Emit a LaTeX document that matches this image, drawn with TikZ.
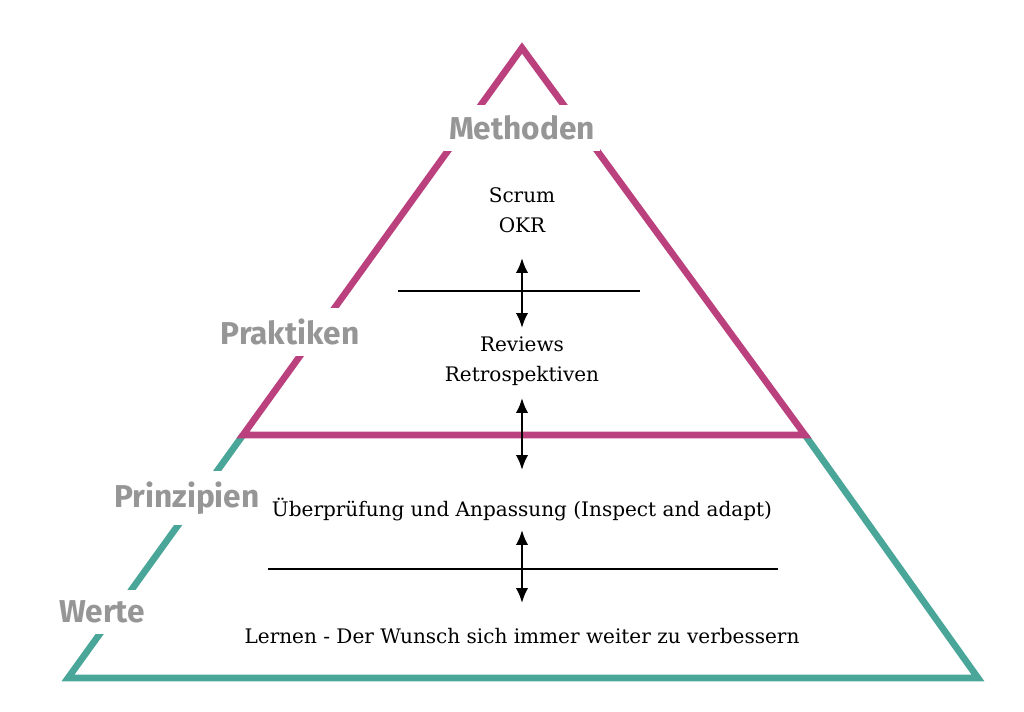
\documentclass[tikz,border=0pt]{standalone}
\usepackage{fontspec}
\setmainfont{DejaVu Serif}
\newfontfamily\stufenfont{Fira Sans}
\usetikzlibrary{arrows.meta,positioning}
\definecolor{pinkrand}{RGB}{187,64,126}
\definecolor{tuerkisrand}{RGB}{74,166,152}
\definecolor{stufengrau}{RGB}{150,150,150}

\begin{document}
\begin{tikzpicture}[x=0.02cm, y=-0.02cm,
  stufe/.style={stufengrau, fill=white, inner xsep=3pt, inner ysep=6pt,
    font=\stufenfont\bfseries\fontsize{18}{20}\selectfont},
  inhalt/.style={align=center, inner sep=1pt, font=\fontsize{11.4}{17}\selectfont},
  trenner/.style={line width=1.1pt, black},
  wechsel/.style={{Latex[length=3mm,width=2.5mm]}-{Latex[length=3mm,width=2.5mm]}, line width=1.4pt}]
  \useasboundingbox (0,0) rectangle (1024,712);
  % Sockel: Werte und Prinzipien
  \draw[line width=3.8pt, tuerkisrand] (243,435) -- (68,678) -- (978,678) -- (805,435);
  % Spitze: Methoden und Praktiken
  \draw[line width=3.8pt, pinkrand] (522,48) -- (805,435) -- (243,435) -- cycle;
  % Trennlinien
  \draw[trenner] (398,291) -- (640,291);
  \draw[trenner] (268,569) -- (778,569);
  % Stufen
  \node[stufe] (methoden) at (522,128) {Methoden};
  \node[stufe] (praktiken) at (290,332) {Praktiken};
  \node[stufe] (prinzipien) at (187,498) {Prinzipien};
  \node[stufe] (werte) at (102,612) {Werte};
  % Inhalte
  \node[inhalt] (scrum) at (522,210) {Scrum\\OKR};
  \node[inhalt] (reviews) at (522,361) {Reviews\\Retrospektiven};
  \node[inhalt] (inspect) at (522,510) {Überprüfung und Anpassung (Inspect and adapt)};
  \node[inhalt] (lernen) at (522,636) {Lernen - Der Wunsch sich immer weiter zu verbessern};
  % Pfeile
  \coordinate (p1o) at (522,258);
  \coordinate (p1u) at (522,328);
  \coordinate (p2o) at (522,398);
  \coordinate (p2u) at (522,470);
  \coordinate (p3o) at (522,530);
  \coordinate (p3u) at (522,603);
  \draw[wechsel] (p1o) -- (p1u);
  \draw[wechsel] (p2o) -- (p2u);
  \draw[wechsel] (p3o) -- (p3u);
\end{tikzpicture}
\end{document}
